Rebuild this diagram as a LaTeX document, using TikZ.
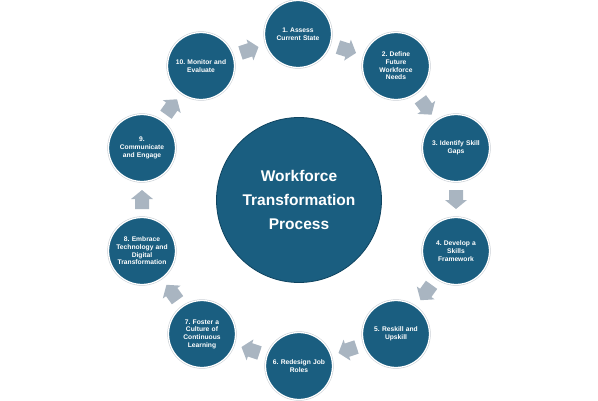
\documentclass[tikz,border=0pt]{standalone}
\usepackage{fontspec}
\setmainfont{Liberation Sans}
\usetikzlibrary{calc}
\frenchspacing
\definecolor{circblue}{HTML}{1A5E80}
\definecolor{circedge}{HTML}{0F4460}
\definecolor{arrowgray}{HTML}{A9B5C1}
\definecolor{ringgray}{HTML}{C4CAD0}
\tikzset{
  stepcirc/.style={circle, fill=circblue, draw=white, line width=1.3pt,
    preaction={draw=ringgray, line width=2.3pt},
    minimum size=67pt, inner sep=0pt, text=white, align=center,
    text width=60pt, font=\fontsize{6.7}{7.7}\selectfont\bfseries\frenchspacing},
  centercirc/.style={circle, fill=circblue, draw=circedge, line width=0.8pt,
    minimum size=165pt, inner sep=0pt, text=white, align=center,
    font=\fontsize{15.5}{24}\selectfont\bfseries},
  blockarrow/.pic={
    \fill[arrowgray] (-9.5,-7) -- (0.5,-7) -- (0.5,-11) -- (9.5,0) -- (0.5,11) -- (0.5,7) -- (-9.5,7) -- cycle;
  }
}
\begin{document}
\begin{tikzpicture}[x=1pt,y=-1pt]
\useasboundingbox (0,0) rectangle (598,400);
\node[centercirc] (c) at (299,200) {Workforce\\Transformation\\Process};
\node[stepcirc] (s1) at (298,34) {1. Assess\\Current State};
\node[stepcirc] (s2) at (396,66) {2. Define\\Future\\Workforce\\Needs};
\node[stepcirc] (s3) at (456,148) {3. Identify Skill\\Gaps};
\node[stepcirc] (s4) at (456,251) {4. Develop a\\Skills\\Framework};
\node[stepcirc] (s5) at (396,334) {5. Reskill and\\Upskill};
\node[stepcirc] (s6) at (299,366) {6. Redesign Job\\Roles};
\node[stepcirc] (s7) at (202,334) {7. Foster a\\Culture of\\Continuous\\Learning};
\node[stepcirc] (s8) at (142,251) {8. Embrace\\Technology and\\Digital\\Transformation};
\node[stepcirc] (s9) at (142,148) {9.\\Communicate\\and Engage};
\node[stepcirc] (s10) at (201,66) {10. Monitor and\\Evaluate};
\foreach \a/\b in {s1/s2,s2/s3,s3/s4,s4/s5,s5/s6,s6/s7,s7/s8,s8/s9,s9/s10,s10/s1}{
  \path let \p1=(\a.center), \p2=(\b.center), \n1={atan2(\y2-\y1,\x2-\x1)} in
    ($(\p1)!0.5!(\p2)$) pic[rotate=\n1] {blockarrow};
}
\end{tikzpicture}
\end{document}
